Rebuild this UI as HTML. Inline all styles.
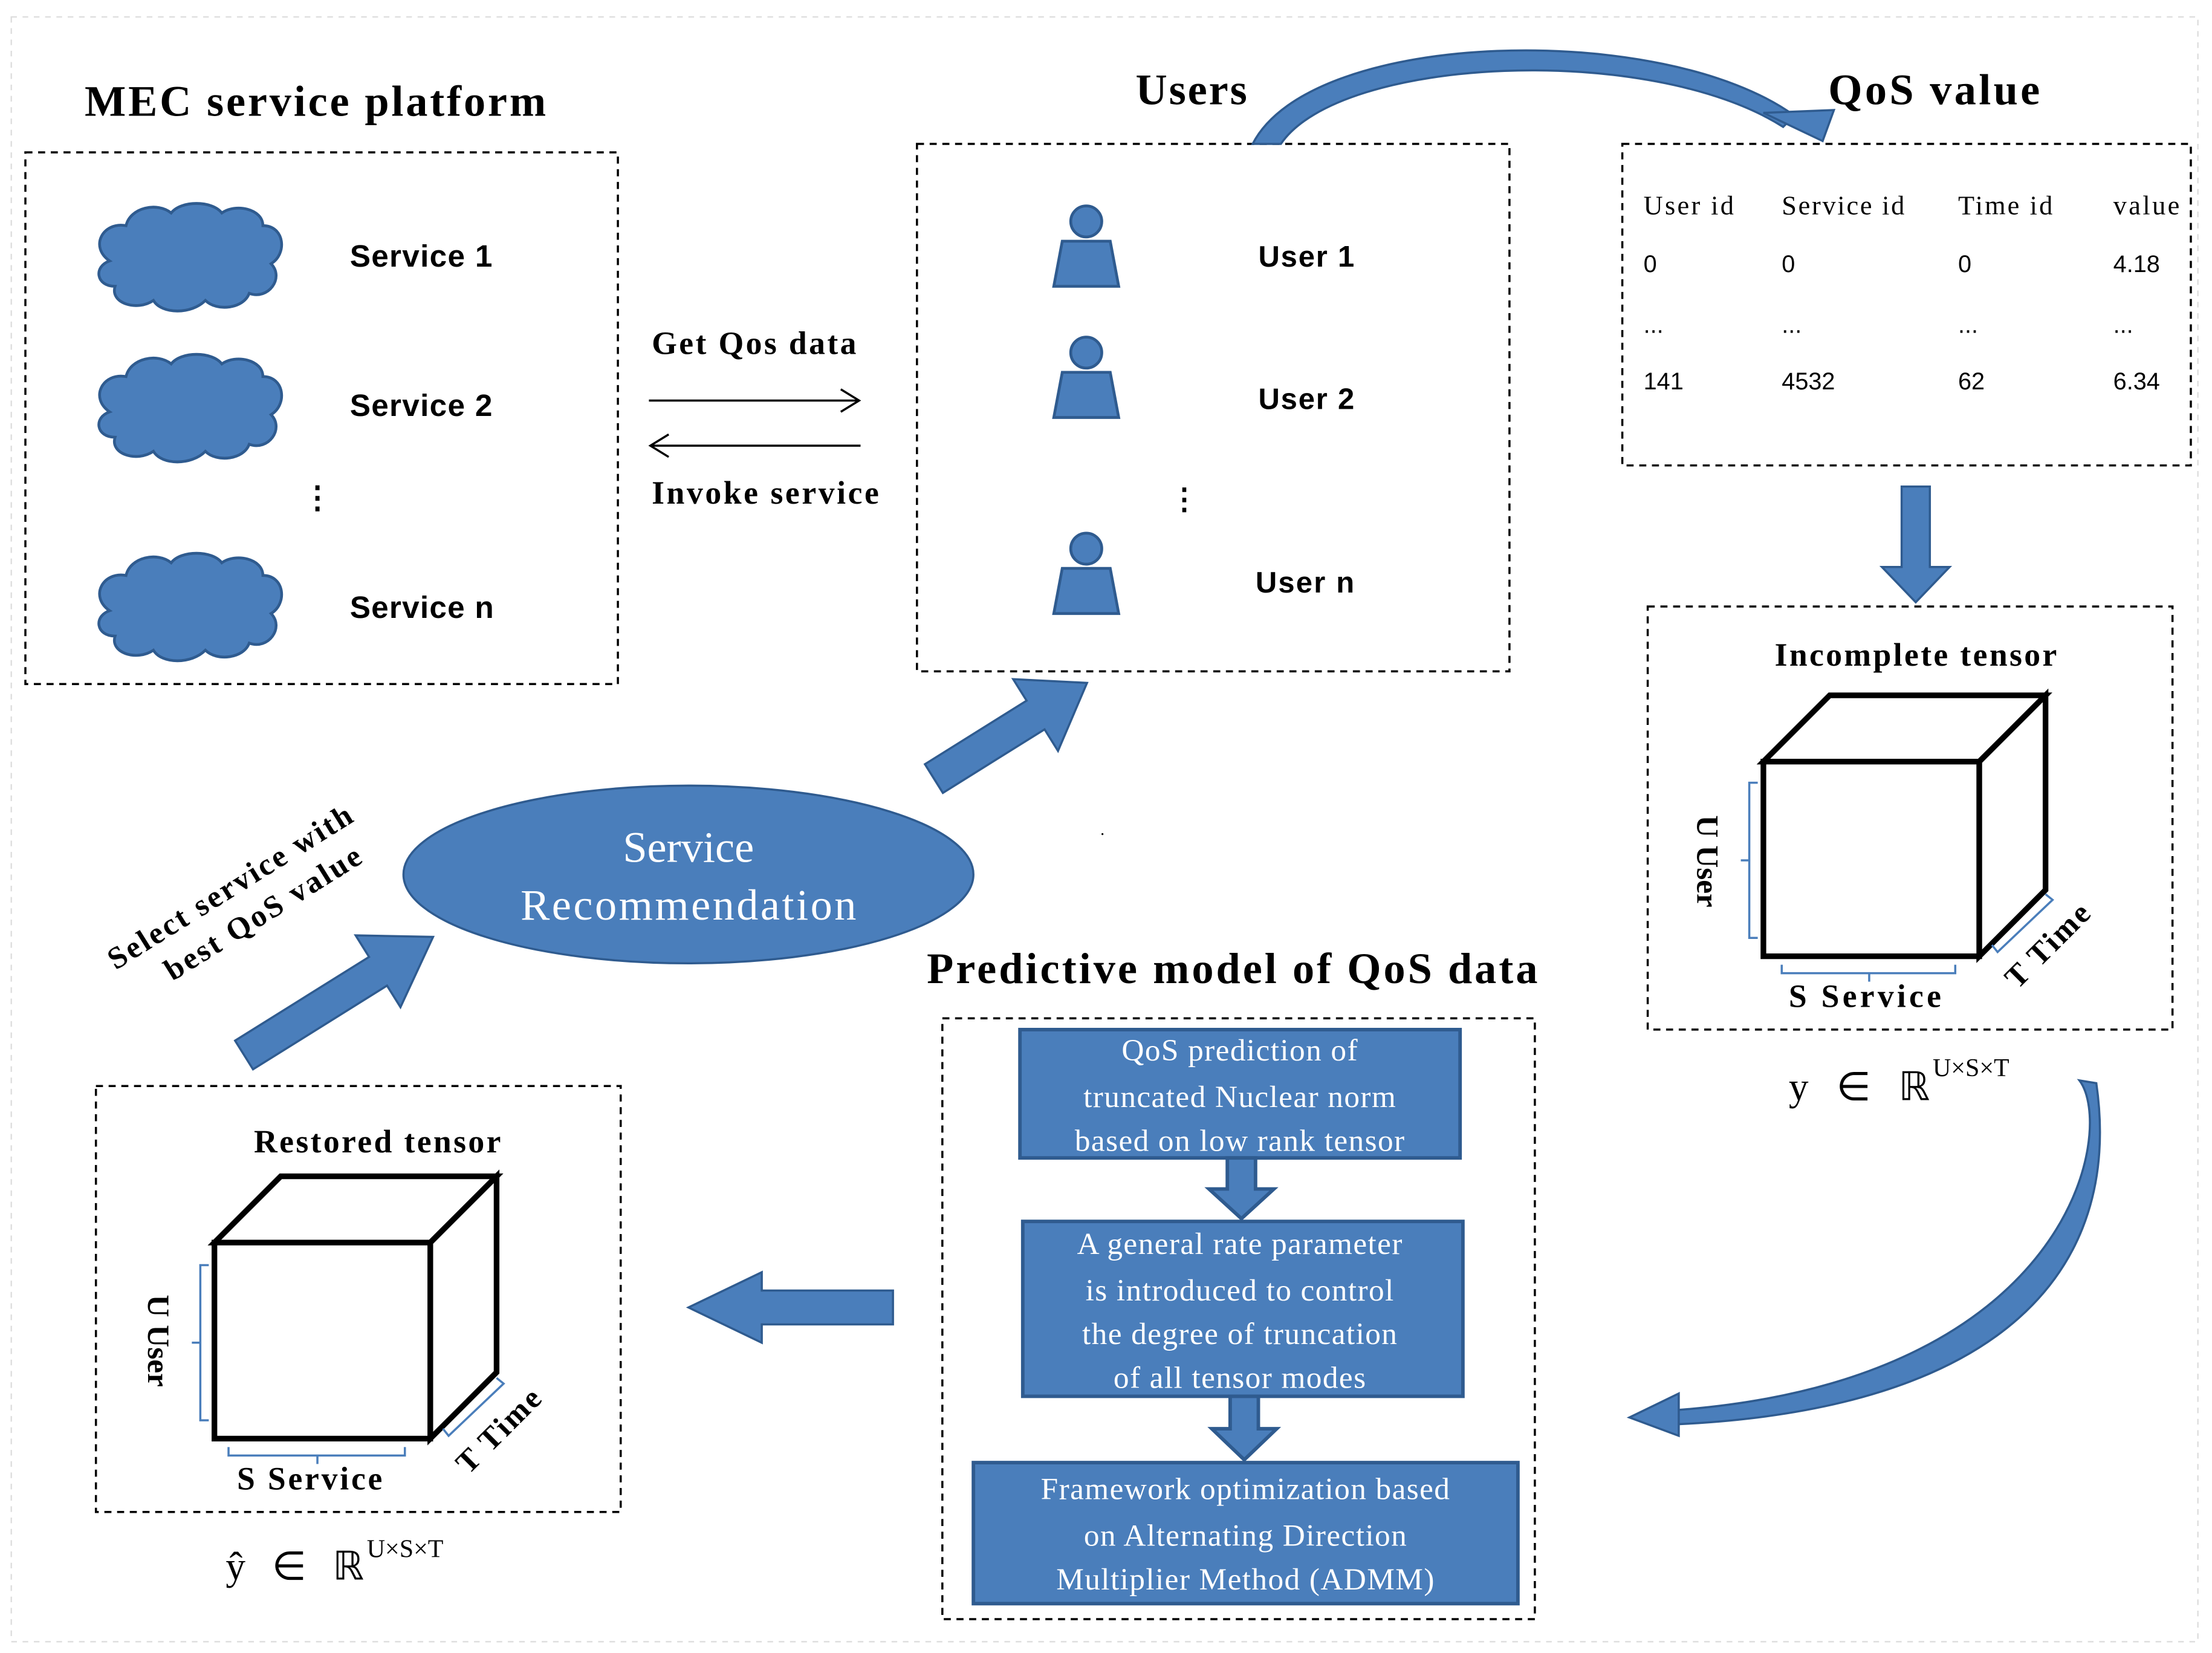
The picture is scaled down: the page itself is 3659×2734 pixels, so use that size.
<!DOCTYPE html>
<html><head><meta charset="utf-8"><style>
html,body{margin:0;padding:0;background:#fff;width:3659px;height:2734px;overflow:hidden}
svg{display:block}
.serif{font-family:"Liberation Serif",serif}
.sans{font-family:"Liberation Sans",sans-serif}
</style></head><body>
<svg width="3659" height="2734" viewBox="0 0 1568 1172" preserveAspectRatio="none" xmlns="http://www.w3.org/2000/svg">
<defs>
<g id="cloud">
<path d="M10,40 C-5,30 5,12 22,15 C25,2 45,-2 55,6 C62,-3 85,-3 92,6 C102,-1 122,3 122,15 C138,15 140,35 128,42 C138,52 126,68 112,63 C108,74 88,76 80,68 C70,78 48,78 42,68 C30,76 10,70 14,58 C0,58 -2,44 10,40 Z" fill="#4a7ebb" stroke="#2f5b8f" stroke-width="2"/>
</g>
<g id="person">
<circle cx="0" cy="0" r="11" fill="#4a7ebb" stroke="#2f5b8f" stroke-width="2"/>
<path d="M-17,14 L17,14 L23,46 L-23,46 Z" fill="#4a7ebb" stroke="#2f5b8f" stroke-width="2"/>
</g>
</defs>
<rect x="8" y="12" width="1550" height="1152" fill="none" stroke="#ddd" stroke-dasharray="4 4"/>

<text x="60" y="82" class="serif" font-size="31" font-weight="bold" textLength="327" lengthAdjust="spacing">MEC service platform</text>
<rect x="18" y="108" width="420" height="377" fill="none" stroke="#000" stroke-width="1.5" stroke-dasharray="5 4"/>
<use href="#cloud" transform="translate(68,145) scale(0.97,1)"/>
<use href="#cloud" transform="translate(68,252) scale(0.97,1)"/>
<use href="#cloud" transform="translate(68,393) scale(0.97,1)"/>
<g class="sans" font-size="22" font-weight="bold">
<text x="248" y="189" textLength="101">Service 1</text>
<text x="248" y="295" textLength="101">Service 2</text>
<text x="248" y="438" textLength="102">Service n</text>
<text x="214" y="360">⋮</text>
</g>

<text x="462" y="251" class="serif" font-size="23" font-weight="bold" textLength="145" lengthAdjust="spacing">Get Qos data</text>
<line x1="460" y1="284" x2="608" y2="284" stroke="#000" stroke-width="1.5"/>
<path d="M596,276 L609,284 L596,292" fill="none" stroke="#000" stroke-width="1.5"/>
<line x1="462" y1="316" x2="610" y2="316" stroke="#000" stroke-width="1.5"/>
<path d="M474,308 L461,316 L474,324" fill="none" stroke="#000" stroke-width="1.5"/>
<text x="462" y="357" class="serif" font-size="23" font-weight="bold" textLength="161" lengthAdjust="spacing">Invoke service</text>

<text x="805" y="74" class="serif" font-size="31" font-weight="bold" textLength="79" lengthAdjust="spacing">Users</text>
<rect x="650" y="102" width="420" height="374" fill="none" stroke="#000" stroke-width="1.5" stroke-dasharray="5 4"/>
<use href="#person" x="770" y="157"/>
<use href="#person" x="770" y="250"/>
<use href="#person" x="770" y="389"/>
<g class="sans" font-size="21" font-weight="bold">
<text x="892" y="189" textLength="68">User 1</text>
<text x="892" y="290" textLength="68">User 2</text>
<text x="890" y="420" textLength="70">User n</text>
<text x="829" y="361">⋮</text>
</g>

<path d="M888,102 C930,20 1180,15 1272,82 L1264,90 C1170,30 950,40 908,102 Z" fill="#4a7ebb" stroke="#2f5b8f" stroke-width="1.5"/>
<path d="M1250,80 L1300,78 L1292,100 Z" fill="#4a7ebb" stroke="#2f5b8f" stroke-width="1.5"/>

<text x="1296" y="74" class="serif" font-size="31" font-weight="bold" textLength="150" lengthAdjust="spacing">QoS value</text>
<rect x="1150" y="102" width="403" height="228" fill="none" stroke="#000" stroke-width="1.5" stroke-dasharray="5 4"/>
<g class="serif" font-size="19">
<text x="1165" y="152" textLength="64">User id</text><text x="1263" y="152" textLength="87">Service id</text><text x="1388" y="152" textLength="67">Time id</text><text x="1498" y="152" textLength="47">value</text>
</g>
<g class="sans" font-size="17">
<text x="1165" y="193">0</text><text x="1263" y="193">0</text><text x="1388" y="193">0</text><text x="1498" y="193">4.18</text>
<text x="1165" y="236">...</text><text x="1263" y="236">...</text><text x="1388" y="236">...</text><text x="1498" y="236">...</text>
<text x="1165" y="276">141</text><text x="1263" y="276">4532</text><text x="1388" y="276">62</text><text x="1498" y="276">6.34</text>
</g>

<path d="M1348,345 L1368,345 L1368,402 L1382,402 L1358,427 L1334,402 L1348,402 Z" fill="#4a7ebb" stroke="#2f5b8f" stroke-width="1.5"/>

<rect x="1168" y="430" width="372" height="300" fill="none" stroke="#000" stroke-width="1.5" stroke-dasharray="5 4"/>
<text x="1258" y="472" class="serif" font-size="23" font-weight="bold" textLength="200" lengthAdjust="spacing">Incomplete tensor</text>
<g fill="none" stroke="#000" stroke-width="4">
<path d="M1250,540 L1297,493 L1450,493 L1403,540 Z"/>
<path d="M1403,540 L1450,493 L1450,631 L1403,678 Z"/>
<rect x="1250" y="540" width="153" height="138" fill="#fff"/>
</g>
<g fill="none" stroke="#4a7ebb" stroke-width="1.5">
<path d="M1246,555 L1240,555 L1240,665 L1246,665 M1240,610 L1234,610"/>
<path d="M1263,684 L1263,690 L1386,690 L1386,684 M1325,690 L1325,696"/>
<path d="M1412,670 L1416,675 L1455,638 L1450,634"/>
</g>
<text transform="translate(1203,578) rotate(90)" class="serif" font-size="22" font-weight="bold">U User</text>
<text x="1268" y="714" class="serif" font-size="23" font-weight="bold" textLength="108" lengthAdjust="spacing">S  Service</text>
<text transform="translate(1430,702) rotate(-45)" class="serif" font-size="22" font-weight="bold" textLength="75" lengthAdjust="spacing">T Time</text>
<text x="1268" y="780" class="serif" font-size="28" textLength="100" lengthAdjust="spacing">y  ∈  ℝ</text>
<text x="1370" y="763" class="serif" font-size="18">U×S×T</text>

<path d="M1474,766 C1500,800 1470,980 1185,1000 L1185,1010 C1420,1000 1505,900 1486,768 Z" fill="#4a7ebb" stroke="#2f5b8f" stroke-width="1.5"/>
<path d="M1190,988 L1155,1005 L1190,1018 Z" fill="#4a7ebb" stroke="#2f5b8f" stroke-width="1.5"/>

<text x="657" y="697" class="serif" font-size="31" font-weight="bold" textLength="433" lengthAdjust="spacing">Predictive model of QoS data</text>
<rect x="668" y="722" width="420" height="426" fill="none" stroke="#000" stroke-width="1.5" stroke-dasharray="5 4"/>
<g fill="#4a7ebb" stroke="#2f5b8f" stroke-width="2.5">
<rect x="723" y="730" width="312" height="91"/>
<rect x="725" y="866" width="312" height="124"/>
<rect x="690" y="1037" width="386" height="100"/>
<path d="M870,821 L890,821 L890,843 L903,843 L880,864 L857,843 L870,843 Z"/>
<path d="M872,990 L892,990 L892,1013 L905,1013 L882,1035 L859,1013 L872,1013 Z"/>
</g>
<g class="serif" font-size="22" fill="#fff" text-anchor="middle" letter-spacing="0.6">
<text x="879" y="752">QoS prediction  of</text>
<text x="879" y="785">truncated  Nuclear  norm</text>
<text x="879" y="816">based on low rank tensor</text>
<text x="879" y="889">A general  rate parameter</text>
<text x="879" y="922">is introduced  to control</text>
<text x="879" y="953">the degree  of truncation</text>
<text x="879" y="984">of all  tensor  modes</text>
<text x="883" y="1063">Framework  optimization  based</text>
<text x="883" y="1096">on Alternating  Direction</text>
<text x="883" y="1127">Multiplier  Method (ADMM)</text>
</g>

<path d="M633,915 L633,939 L540,939 L540,952 L488,927 L540,902 L540,915 Z" fill="#4a7ebb" stroke="#2f5b8f" stroke-width="1.5"/>

<rect x="68" y="770" width="372" height="302" fill="none" stroke="#000" stroke-width="1.5" stroke-dasharray="5 4"/>
<text x="180" y="817" class="serif" font-size="23" font-weight="bold" textLength="175" lengthAdjust="spacing">Restored tensor</text>
<g fill="none" stroke="#000" stroke-width="4">
<path d="M152,881 L199,834 L352,834 L305,881 Z"/>
<path d="M305,881 L352,834 L352,973 L305,1020 Z"/>
<rect x="152" y="881" width="153" height="139" fill="#fff"/>
</g>
<g fill="none" stroke="#4a7ebb" stroke-width="1.5">
<path d="M148,897 L142,897 L142,1007 L148,1007 M142,952 L136,952"/>
<path d="M162,1026 L162,1032 L287,1032 L287,1026 M225,1032 L225,1038"/>
<path d="M314,1013 L318,1018 L357,981 L352,977"/>
</g>
<text transform="translate(105,918) rotate(90)" class="serif" font-size="22" font-weight="bold">U User</text>
<text x="168" y="1056" class="serif" font-size="23" font-weight="bold" textLength="103" lengthAdjust="spacing">S Service</text>
<text transform="translate(332,1046) rotate(-45)" class="serif" font-size="22" font-weight="bold" textLength="75" lengthAdjust="spacing">T Time</text>
<text x="160" y="1120" class="serif" font-size="28" textLength="98" lengthAdjust="spacing">ŷ  ∈  ℝ</text>
<text x="260" y="1104" class="serif" font-size="18">U×S×T</text>

<ellipse cx="488" cy="620" rx="202" ry="63" fill="#4a7ebb" stroke="#2f5b8f" stroke-width="1.5"/>
<text x="488" y="611" class="serif" font-size="31" fill="#fff" text-anchor="middle">Service</text>
<text x="488" y="652" class="serif" font-size="31" fill="#fff" text-anchor="middle" textLength="238" lengthAdjust="spacing">Recommendation</text>
<text x="780" y="592" font-size="12">.</text>

<g transform="translate(662,552) rotate(-32)">
<path d="M0,-12 L85,-12 L85,-30 L128,0 L85,30 L85,12 L0,12 Z" fill="#4a7ebb" stroke="#2f5b8f" stroke-width="1.5"/>
</g>
<g transform="translate(173,748) rotate(-32)">
<path d="M0,-12 L112,-12 L112,-30 L158,0 L112,30 L112,12 L0,12 Z" fill="#4a7ebb" stroke="#2f5b8f" stroke-width="1.5"/>
</g>
<g transform="translate(82,688) rotate(-32)" class="serif" font-size="22" font-weight="bold">
<text x="0" y="0" textLength="200" lengthAdjust="spacing">Select service with</text>
<text x="30" y="28" textLength="160" lengthAdjust="spacing">best QoS value</text>
</g>
</svg>
</body></html>
